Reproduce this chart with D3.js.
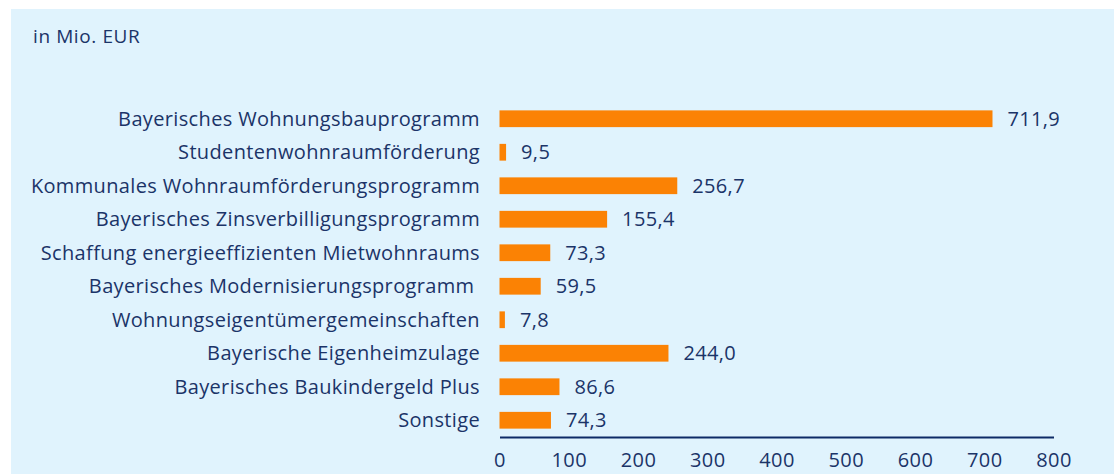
<!DOCTYPE html>
<html>
<head>
<meta charset="utf-8">
<script src="https://cdn.jsdelivr.net/npm/d3@7"></script>
<style>
  body { margin: 0; background: #fff; }
  text { font-family: "Open Sans", sans-serif; fill: #1b3468; letter-spacing: 0.35px; }
</style>
</head>
<body>
<main></main>
<script>
//Data
const programs = [
  "Bayerisches Wohnungsbauprogramm",
  "Studentenwohnraumförderung",
  "Kommunales Wohnraumförderungsprogramm",
  "Bayerisches Zinsverbilligungsprogramm",
  "Schaffung energieeffizienten Mietwohnraums",
  "Bayerisches Modernisierungsprogramm ",
  "Wohnungseigentümergemeinschaften",
  "Bayerische Eigenheimzulage",
  "Bayerisches Baukindergeld Plus",
  "Sonstige"
];
const amounts = [711.9, 9.5, 256.7, 155.4, 73.3, 59.5, 7.8, 244.0, 86.6, 74.3];
const xTicks = [0, 100, 200, 300, 400, 500, 600, 700, 800];
const unitLabel = "in Mio. EUR";

//Parameters
const w = 1114;
const h = 474;
const fontSize = "20px";

const svg = d3.select("main")
  .append("svg")
  .attr("width", w)
  .attr("height", h)
  .style("display", "block");

//Panel
svg.append("rect")
  .attr("x", 11).attr("y", 9)
  .attr("width", w - 11).attr("height", h - 9)
  .attr("fill", "#e0f3fd");

svg.append("text")
  .attr("x", 33).attr("y", 43)
  .style("font-size", "19px")
  .style("letter-spacing", "0.6px")
  .text(unitLabel);

//Scales
const x = d3.scaleLinear().domain([0, 800]).range([499.5, 1053.5]);
const y = d3.scaleBand().domain(programs).range([102, 437]).paddingInner(0.5).paddingOuter(0.25);

const fmt = d => d3.format(".1f")(d).replace(".", ",");

//Bars
svg.append("g")
  .selectAll("rect")
  .data(programs)
  .enter()
  .append("rect")
  .attr("x", x(0))
  .attr("y", d => y(d))
  .attr("width", (d, i) => x(amounts[i]) - x(0))
  .attr("height", y.bandwidth())
  .attr("fill", "#fb8204");

//Value labels
svg.append("g")
  .selectAll("text")
  .data(programs)
  .enter()
  .append("text")
  .attr("x", (d, i) => x(amounts[i]) + 15)
  .attr("y", d => y(d) + y.bandwidth() / 2)
  .attr("dy", "0.36em")
  .style("font-size", fontSize)
  .text((d, i) => fmt(amounts[i]));

//Category labels
svg.append("g")
  .selectAll("text")
  .data(programs)
  .enter()
  .append("text")
  .attr("x", 480)
  .attr("y", d => y(d) + y.bandwidth() / 2)
  .attr("dy", "0.36em")
  .attr("text-anchor", "end")
  .style("font-size", fontSize)
  .style("white-space", "pre")
  .text(d => d);

//Axis
const axis = svg.append("g")
  .attr("transform", "translate(0,437)")
  .call(d3.axisBottom(x).tickValues(xTicks).tickSize(0).tickPadding(16));
axis.select(".domain").attr("stroke", "#0d2a66").attr("stroke-width", 2);
axis.selectAll("text")
  .style("font-size", fontSize)
  .style("font-family", "'Open Sans', sans-serif")
  .attr("fill", "#1b3468");
</script>
</body>
</html>
